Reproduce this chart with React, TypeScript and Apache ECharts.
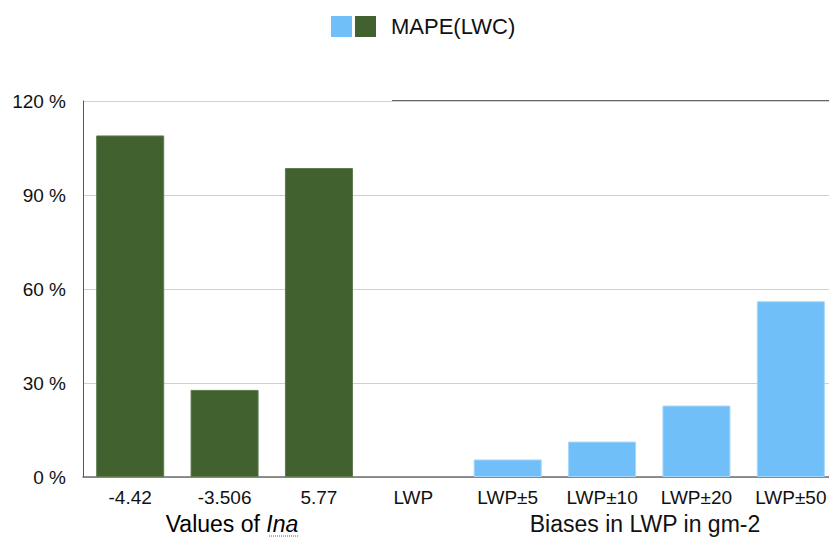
import React, { useEffect, useRef } from "react";
import * as echarts from "echarts";

const categories = ["-4.42", "-3.506", "5.77", "LWP", "LWP±5", "LWP±10", "LWP±20", "LWP±50"];
const inaValues = [109, 27.8, 98.6, null, null, null, null, null];
const biasValues = [null, null, null, 0, 5.6, 11.3, 22.8, 56.1];
const yTicks = [0, 30, 60, 90, 120];
const legendName = "MAPE(LWC)";

const GREEN = "#41612f";
const BLUE = "#70bff8";
const FONT = "'Liberation Sans', Arial, Helvetica, sans-serif";

export default function App() {
  const ref = useRef<HTMLDivElement>(null);
  useEffect(() => {
    if (!ref.current) return;
    document.body.style.overflow = "hidden";
    const chart = echarts.init(ref.current, null, { renderer: "svg" });
    const biasData = biasValues.map((v) =>
      v === 0 ? { value: v, itemStyle: { borderWidth: 0, opacity: 0 } } : v
    );
    chart.setOption({
      animation: false,
      textStyle: { fontFamily: FONT },
      grid: { left: 83, top: 101, bottom: 61, right: 0, containLabel: false },
      xAxis: {
        type: "category",
        data: categories,
        axisLine: { show: true, lineStyle: { color: "#6e6e6e", width: 1.5 } },
        axisTick: { show: false },
        axisLabel: { color: "#111", fontSize: 19, margin: 11, fontFamily: FONT, interval: 0 },
      },
      yAxis: {
        type: "value",
        min: yTicks[0],
        max: yTicks[yTicks.length - 1],
        interval: 30,
        axisLine: { show: true, lineStyle: { color: "#555", width: 1 } },
        axisTick: { show: false },
        axisLabel: { color: "#111", fontSize: 19, margin: 17, fontFamily: FONT, formatter: (v: number) => `${v} %` },
        splitLine: { show: true, lineStyle: { color: "#d0d0d0", width: 1 } },
      },
      series: [
        {
          name: legendName,
          type: "bar",
          stack: "s",
          data: inaValues,
          barWidth: 68,
          itemStyle: { color: GREEN, borderColor: "#5b7a4c", borderWidth: 1 },
        },
        {
          name: legendName + " ",
          type: "bar",
          stack: "s",
          data: biasData,
          barWidth: 68,
          itemStyle: { color: BLUE, borderColor: "#a6d6fb", borderWidth: 1 },
        },
      ],
      graphic: [
        { type: "rect", left: 331, top: 16, shape: { width: 21, height: 21 }, style: { fill: BLUE } },
        { type: "rect", left: 355, top: 16, shape: { width: 21, height: 21 }, style: { fill: GREEN } },
        {
          type: "text",
          left: 391,
          top: 15,
          style: { text: legendName, fill: "#111", font: `22px ${FONT}` },
        },
        {
          type: "line",
          shape: { x1: 392, y1: 101, x2: 838, y2: 101 },
          style: { stroke: "#333", lineWidth: 1.5 },
        },
        {
          type: "text",
          x: 232,
          y: 524,
          style: {
            text: "{n|Values of }{i|Ina}",
            align: "center",
            verticalAlign: "middle",
            rich: {
              n: { fontSize: 23, fontFamily: FONT, color: "#111" },
              i: { fontSize: 23, fontFamily: FONT, fontStyle: "italic", color: "#111" },
            },
          },
        },
        {
          type: "line",
          shape: { x1: 269, y1: 536, x2: 298, y2: 536 },
          style: { stroke: "#e03030", lineWidth: 1, lineDash: [1, 1] },
        },
        {
          type: "text",
          x: 645,
          y: 524,
          style: {
            text: "Biases in LWP in gm-2",
            align: "center",
            verticalAlign: "middle",
            fill: "#111",
            font: `23px ${FONT}`,
          },
        },
      ],
    });
    return () => chart.dispose();
  }, []);
  return (
    <div
      ref={ref}
      style={{ position: "fixed", left: 0, top: 0, width: 838, height: 538, background: "#fff" }}
    />
  );
}
